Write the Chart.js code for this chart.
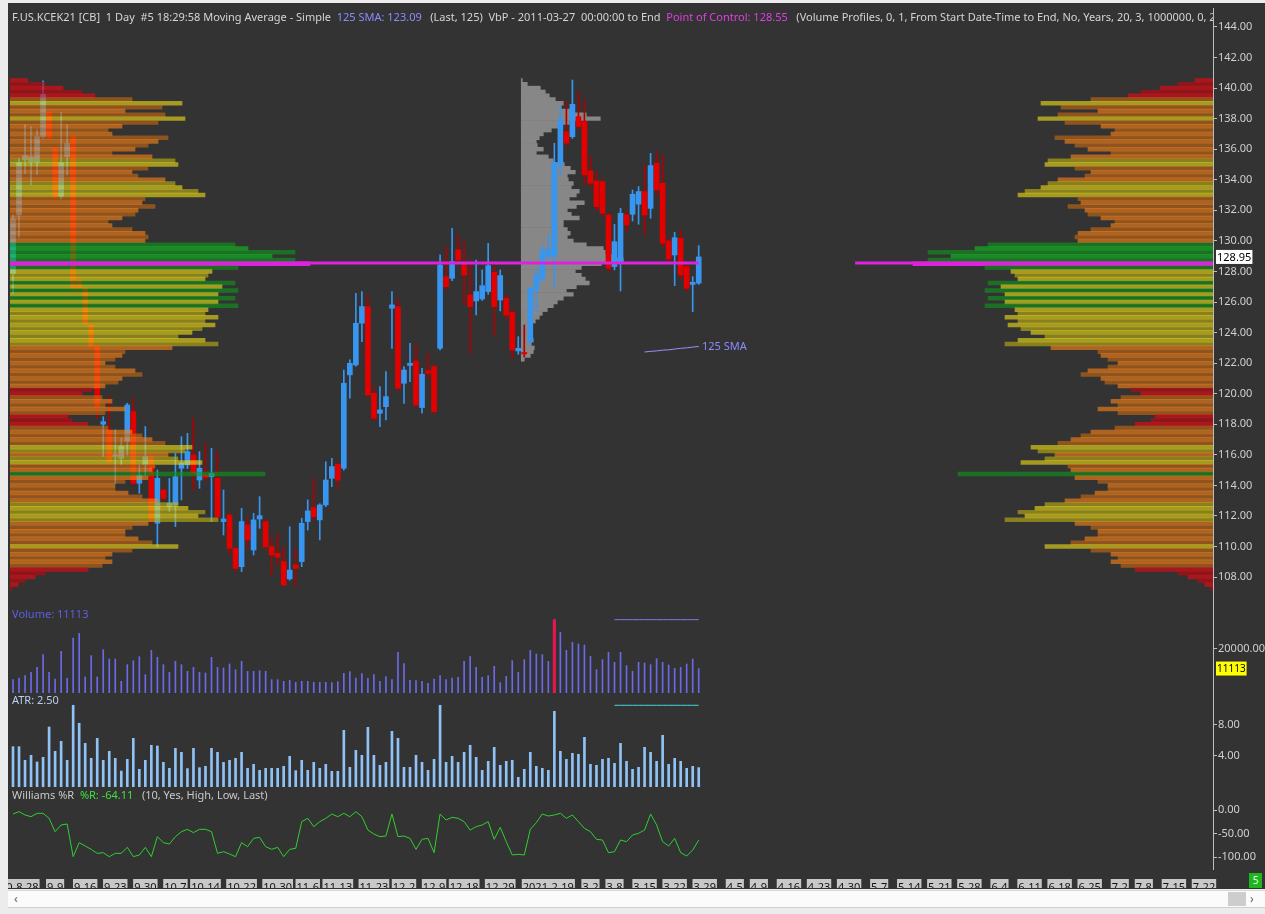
<!DOCTYPE html>
<html>
<head>
<meta charset="utf-8">
<title>F.US.KCEK21 1 Day</title>
<script src="https://cdn.jsdelivr.net/npm/chart.js@4.4.1/dist/chart.umd.min.js"></script>
<style>
  body { margin: 0; width: 1265px; height: 914px; background: #ececec; overflow: hidden; font-family: "Noto Sans", sans-serif; }
  #frame { position: absolute; left: 8px; top: 3px; width: 1257px; height: 886px; background: #333333; overflow: hidden; }
  #frame canvas { position: absolute; left: -8px; }
  .lbl { position: absolute; font-size: 11px; line-height: 14px; white-space: nowrap; }
  #axisLine { position: absolute; left: 1205px; top: 5px; width: 1px; height: 862px; background: #bdbdbd; }
  #scroll { position: absolute; left: 8px; top: 890px; width: 1257px; height: 16px; background: #fbfbfb; border-top: 1px solid #d8d8d8; border-bottom: 1px solid #cfcfcf; }
  #thumb { position: absolute; left: 1220px; top: 1px; width: 18px; height: 14px; background: #cdcdcd; }
  .arrow { position: absolute; top: 0; font-size: 12px; line-height: 16px; color: #606060; }
  #badge { position: absolute; left: 1241px; top: 870px; width: 13px; height: 15px; background: #1fb51f; color: #e8ffe8; font-size: 10px; line-height: 15px; text-align: center; }
</style>
</head>
<body>
<div id="frame">
  <canvas id="cBack" width="1265" height="600" style="top:-3px"></canvas>
  <canvas id="cMain" width="1265" height="600" style="top:-3px"></canvas>
  <canvas id="cFront" width="1265" height="600" style="top:-3px"></canvas>
  <canvas id="cVol" width="1265" height="95" style="top:597px"></canvas>
  <canvas id="cAtr" width="1265" height="95" style="top:692px"></canvas>
  <canvas id="cWr" width="1265" height="100" style="top:787px"></canvas>
  <div id="axisLine"></div>

  <div class="lbl" style="left:4px;top:7px;width:1201px;overflow:hidden;color:#d4d4d4">F.US.KCEK21 [CB]&nbsp; 1 Day&nbsp; #5 18:29:58 Moving Average - Simple&nbsp; <span style="color:#8b8bff">125 SMA: 123.09</span>&nbsp;&nbsp; (Last, 125)&nbsp; VbP - 2011-03-27&nbsp; 00:00:00 to End&nbsp; <span style="color:#e23de2">Point of Control: 128.55</span>&nbsp;&nbsp; (Volume Profiles, 0, 1, From Start Date-Time to End, No, Years, 20, 3, 1000000, 0, 2011-03-27, 00:00:00)</div>
  <div class="lbl" style="left:694px;top:336px;color:#8b8bff">125 SMA</div>
  <div class="lbl" style="left:4px;top:604px;color:#5f5fe6">Volume: 11113</div>
  <div class="lbl" style="left:4px;top:690px;color:#b9cdec">ATR: 2.50</div>
  <div class="lbl" style="left:4px;top:785px;color:#c8c8c8">Williams %R&nbsp; <span style="color:#3fe03f">%R: -64.11</span>&nbsp;&nbsp; (10, Yes, High, Low, Last)</div>
  <div id="badge">5</div>
</div>
<div id="scroll"><span class="arrow" style="left:6px">&#8249;</span><div id="thumb"></div><span class="arrow" style="left:1242px">&#8250;</span></div>

<script>
// ---- data ----
const tickDates = ["2020-8-28", "9-9", "9-16", "9-23", "9-30", "10-7", "10-14", "10-22", "10-30", "11-6",
  "11-13", "11-23", "12-2", "12-9", "12-18", "12-29", "2021-2-19", "3-2", "3-8", "3-15", "3-22",
  "3-29", "4-5", "4-9", "4-16", "4-23", "4-30", "5-7", "5-14", "5-21", "5-28", "6-4", "6-11",
  "6-18", "6-25", "7-2", "7-8", "7-15", "7-22"]
const tickSlots = [0, 7, 12, 17, 22, 27, 32, 38, 44, 49, 54, 60, 65, 70, 75, 81, 89, 96, 100, 105, 110,
  115, 120, 124, 129, 134, 139, 144, 149, 154, 159, 164, 169, 174, 179, 184, 188, 193, 198]

const opens = [127.84, 131.70, 135.30, 135.19, 135.14, 136.82, 138.42, 136.06, 132.90, 135.52,
  136.82, 127.40, 126.90, 124.50, 123.08, 118.00, 117.63, 115.90, 115.77, 116.86,
  118.83, 114.14, 115.34, 115.88, 111.52, 113.70, 112.61, 112.72, 115.12, 115.34,
  115.99, 114.35, 114.68, 114.57, 114.46, 111.63, 112.06, 109.88, 108.68, 111.41,
  109.77, 111.80, 111.63, 109.99, 109.55, 109.01, 107.88, 108.79, 109.01, 111.63,
  112.55, 111.74, 112.72, 114.46, 115.38, 115.12, 121.23, 121.88, 124.61, 125.70,
  120.03, 118.72, 119.15, 125.59, 125.70, 120.68, 121.85, 122.14, 119.09, 121.50,
  121.77, 122.97, 127.66, 127.55, 129.41, 128.53, 126.46, 126.07, 126.20, 126.68,
  127.95, 126.13, 126.24, 125.33, 122.80, 122.70, 123.41, 126.79, 127.51, 128.97,
  128.97, 134.97, 137.15, 136.82, 138.13, 137.81, 134.58, 133.92, 133.88, 131.70,
  128.32, 128.53, 131.70, 131.74, 132.40, 133.23, 132.13, 135.08, 133.77, 130.00,
  129.08, 130.17, 128.32, 127.15, 127.23]
const highs = [131.70, 135.40, 137.63, 137.48, 137.26, 140.47, 138.57, 136.17, 138.42, 137.59,
  136.90, 127.70, 127.00, 124.70, 123.20, 118.50, 119.80, 117.63, 117.08, 119.37,
  119.70, 115.34, 117.85, 116.00, 115.01, 113.80, 114.46, 116.10, 117.19, 117.41,
  118.39, 116.21, 116.75, 116.43, 116.21, 113.70, 112.20, 110.00, 112.50, 111.90,
  112.17, 113.26, 111.80, 110.54, 110.86, 110.00, 111.30, 109.88, 111.85, 113.05,
  114.46, 112.80, 115.55, 115.77, 115.50, 121.55, 122.21, 126.57, 126.68, 126.46,
  120.50, 120.46, 121.45, 126.68, 126.20, 121.77, 123.30, 123.20, 121.66, 122.64,
  121.90, 129.08, 129.62, 130.82, 130.39, 129.95, 128.75, 128.75, 128.10, 129.84,
  128.32, 128.10, 126.50, 125.50, 123.73, 124.50, 127.00, 128.21, 129.73, 130.43,
  136.39, 138.79, 139.11, 140.53, 139.77, 139.22, 135.50, 134.50, 134.00, 131.80,
  131.09, 132.13, 132.00, 133.33, 133.55, 134.97, 135.73, 135.80, 135.62, 130.20,
  130.56, 130.70, 128.50, 127.66, 129.69]
const lows = [126.57, 130.24, 134.42, 133.66, 134.32, 136.72, 136.60, 132.57, 132.74, 134.32,
  126.60, 126.70, 124.50, 122.90, 118.39, 115.88, 115.40, 114.14, 115.34, 115.99,
  114.03, 113.48, 114.68, 111.50, 109.99, 113.00, 112.28, 111.30, 113.05, 115.10,
  113.70, 113.81, 114.30, 111.63, 111.85, 110.75, 109.45, 108.40, 108.35, 109.88,
  109.45, 111.19, 109.80, 108.14, 108.79, 107.40, 107.80, 107.37, 108.68, 111.08,
  111.70, 110.43, 112.60, 113.92, 113.81, 115.00, 119.70, 121.80, 123.41, 119.80,
  118.20, 117.85, 118.28, 122.97, 120.20, 119.37, 120.79, 119.10, 118.72, 121.00,
  118.70, 122.87, 126.80, 127.40, 128.50, 125.81, 122.64, 125.15, 126.10, 126.50,
  123.84, 125.42, 124.90, 122.30, 122.58, 122.40, 123.19, 125.37, 127.30, 128.80,
  126.90, 134.32, 136.20, 136.70, 137.30, 133.66, 133.50, 132.00, 131.60, 128.00,
  128.10, 126.72, 130.60, 131.30, 131.09, 130.39, 131.48, 133.00, 129.60, 128.60,
  127.07, 127.50, 126.70, 125.37, 127.15]
const closes = [131.44, 135.14, 135.58, 135.50, 136.82, 139.59, 136.72, 132.90, 135.14, 136.39,
  126.90, 126.90, 124.60, 123.08, 119.15, 118.17, 115.55, 116.00, 116.54, 119.26,
  114.14, 114.68, 115.88, 111.63, 114.46, 113.15, 112.83, 114.57, 115.45, 116.21,
  114.79, 115.12, 114.50, 114.79, 111.95, 111.80, 109.88, 108.57, 111.63, 110.43,
  111.74, 112.02, 109.99, 109.45, 109.30, 107.48, 108.46, 108.57, 111.52, 112.33,
  111.95, 112.72, 114.35, 115.23, 114.35, 120.68, 121.99, 124.61, 125.70, 119.92,
  118.39, 118.94, 119.81, 125.81, 120.35, 121.55, 121.99, 119.26, 121.27, 121.33,
  118.83, 128.42, 127.00, 128.64, 128.75, 127.77, 125.70, 126.68, 127.07, 128.38,
  125.70, 127.73, 125.15, 122.86, 122.97, 122.60, 126.90, 127.77, 129.34, 129.47,
  135.14, 137.96, 136.39, 138.94, 137.48, 134.32, 133.77, 132.24, 131.81, 128.21,
  129.95, 131.81, 131.04, 133.05, 133.23, 131.70, 134.93, 133.33, 129.84, 128.82,
  130.21, 127.77, 126.90, 127.29, 128.95]

const volume = [6060, 6820, 7880, 9390, 11670, 17420, 9390, 6360, 18940, 6670,
  25000, 27120, 7270, 16970, 7270, 19700, 15450, 15450, 5300, 12880,
  14700, 16510, 8330, 19390, 16210, 12880, 9390, 14390, 12880, 9850,
  11670, 9390, 9090, 16210, 11670, 11360, 13180, 10600, 14390, 9850,
  9850, 10150, 9850, 6060, 6060, 5300, 5760, 4850, 5300, 5300,
  4850, 4850, 4850, 4700, 5150, 8940, 9700, 6820, 8790, 6670,
  8330, 5300, 7420, 6060, 18480, 13330, 5760, 5600, 5300, 4390,
  6360, 7880, 6060, 6820, 7120, 14390, 16510, 11670, 7120, 7880,
  12120, 4700, 7580, 14700, 9390, 15150, 19390, 17730, 17420, 14390,
  33330, 27570, 19390, 23030, 22270, 21820, 16670, 10600, 15150, 18480,
  13940, 18480, 12420, 9850, 13940, 13640, 12880, 15600, 13940, 12730,
  11210, 11670, 13180, 15450, 11113]

const atr = [5.20, 5.20, 3.44, 4.09, 3.23, 3.83, 7.74, 4.60, 5.89, 3.44,
  10.54, 8.22, 5.63, 3.70, 6.28, 3.44, 4.60, 3.70, 2.06, 3.57,
  6.28, 2.28, 3.44, 5.38, 5.29, 3.18, 2.41, 4.99, 4.47, 2.37,
  4.99, 2.49, 2.67, 4.99, 4.47, 3.18, 3.44, 3.70, 4.47, 2.41,
  2.92, 2.15, 2.41, 2.41, 2.41, 2.67, 3.96, 2.11, 3.44, 2.15,
  3.18, 2.41, 2.92, 2.02, 2.02, 7.31, 2.54, 4.73, 4.09, 7.70,
  4.09, 2.80, 3.18, 7.18, 6.28, 2.54, 2.54, 4.09, 3.18, 2.15,
  3.57, 10.54, 3.18, 3.96, 3.18, 4.47, 5.38, 3.83, 2.15, 3.31,
  5.12, 2.80, 3.31, 3.44, 1.25, 2.28, 4.47, 2.67, 2.41, 2.15,
  9.76, 4.60, 3.57, 4.34, 4.22, 6.41, 2.92, 2.80, 3.57, 3.70,
  3.05, 5.63, 3.31, 2.28, 2.54, 5.12, 4.47, 3.31, 6.67, 2.92,
  3.70, 3.31, 2.41, 2.67, 2.50]

const williamsR = [-8.5, -3.5, -10.6, -14.2, -7.1, -7.1, -17.7, -46.1, -31.9, -29.8,
  -99.3, -69.5, -76.6, -83.7, -92.2, -90.8, -99.3, -92.2, -92.2, -79.4,
  -99.3, -95.7, -79.4, -99.3, -56.7, -69.5, -72.3, -56.7, -46.1, -41.1,
  -48.2, -41.1, -41.1, -46.1, -92.2, -88.7, -93.6, -99.3, -69.5, -78.0,
  -60.3, -58.2, -78.0, -83.7, -79.4, -99.3, -83.7, -81.6, -24.8, -17.7,
  -35.5, -24.8, -17.7, -8.5, -14.2, -7.1, -14.2, -3.5, -14.2, -42.6,
  -51.1, -56.7, -55.3, -8.5, -56.7, -55.3, -60.3, -83.7, -62.4, -60.3,
  -90.8, -8.5, -21.3, -15.6, -17.7, -24.8, -42.6, -35.5, -31.9, -24.8,
  -62.4, -36.9, -67.4, -95.7, -94.3, -95.7, -41.1, -27.0, -8.5, -12.8,
  -10.6, -7.1, -17.7, -10.6, -24.8, -39.0, -46.1, -62.4, -63.8, -90.8,
  -88.7, -63.8, -67.4, -53.2, -49.6, -42.6, -8.5, -31.9, -67.4, -76.6,
  -60.3, -90.8, -97.9, -85.1, -64.11]

// 125 SMA, only the last bars are on screen
const smaStartSlot = 105
const sma125 = [122.73, 122.77, 122.80, 122.85, 122.87, 122.92, 122.97, 123.00, 123.05, 123.09]

const pocPrice = 128.55
const pocExtendFrom = 140
const lastPrice = 128.95
const highlightFrom = 100

// volume by price, whole chart, from 140.50 down in 0.25 steps
const profileTop = 140.5
const profileStep = 0.25
const profileVolume = [
  1800, 3500, 5300, 7200, 8500, 12200, 17200, 15200, 11500, 15500,
  17500, 14800, 11200, 9800, 10200, 15800, 14800, 13800, 12500, 10200,
  14200, 16500, 16800, 13800, 12200, 12800, 15500, 16500, 17200, 18800,
  19500, 13500, 13200, 14500, 12800, 12500, 11200, 9800, 10200, 12200,
  13500, 13800, 13500, 22500, 23800, 28500, 26200, 28500, 30000, 22800,
  20200, 19800, 19500, 22500, 21200, 22800, 20800, 22500, 20800, 22800,
  19800, 19500, 20800, 19500, 20500, 19200, 18200, 16800, 19500, 20800,
  16200, 11500, 11200, 10500, 9500, 10500, 12500, 13200, 11200, 10800,
  9500, 8200, 7200, 9200, 10200, 9500, 11500, 9500, 5800, 6200,
  7800, 9800, 12200, 13200, 14200, 15500, 18200, 17500, 15800, 16800,
  19200, 14500, 14200, 25500, 13800, 11500, 10500, 10500, 11800, 13200,
  14800, 16800, 17800, 19500, 18800, 20800, 13800, 12200, 11500, 11500,
  12800, 14200, 16800, 12200, 10200, 9500, 10200, 9200, 7800, 3500,
  2500, 1500, 800, 200]

// volume by price of the recent period (gray profile), same price steps
const recentStartSlot = 85
const recentVolume = [
  100, 600, 1900, 2400, 2800, 3400, 4200, 4000, 5000, 6500,
  7900, 4800, 3800, 3000, 2200, 1800, 1500, 1600, 2200, 1500,
  2700, 3200, 4300, 4900, 5400, 4600, 4700, 5200, 5000, 5800,
  5500, 4800, 6300, 5500, 4600, 5000, 5800, 4200, 4200, 4600,
  4900, 4600, 5200, 6500, 8200, 8400, 9500, 10200, 8000, 6000,
  5400, 6000, 6400, 6800, 5500, 4500, 5200, 4200, 3600, 3200,
  2600, 2100, 1800, 1400, 900, 1000, 800, 900, 1200, 1000,
  1300, 1200, 900, 300]

const priceTicks = [108, 110, 112, 114, 116, 118, 120, 122, 124, 126, 128, 130, 132, 134, 136, 138, 140, 142, 144]
const volumeTicks = [20000]
const atrTicks = [4, 8]
const williamsTicks = [0, -50, -100]

// ---- setup ----
Chart.defaults.font.family = "'Noto Sans', sans-serif"
Chart.defaults.font.size = 11

const SLOTS = 200
const N = opens.length
const slotLabels = Array.from({ length: SLOTS }, () => "")
tickSlots.forEach((s, k) => { slotLabels[s] = tickDates[k] })

const PRICE_MIN = 106.63
const PRICE_MAX = 145.24
const PROFILE_SPAN = 120300

const upColor = "#3796f0"
const downColor = "#e50000"
const downWick = "#b00000"

const base = {
  responsive: false,
  animation: false,
  events: [],
  plugins: { legend: { display: false }, tooltip: { enabled: false } },
}

function slotAxis(show) {
  return {
    type: "category",
    labels: slotLabels,
    offset: true,
    display: show,
    grid: { display: false },
    border: { display: false },
  }
}

function rightAxis(min, max, ticksList) {
  return {
    position: "right",
    min: min,
    max: max,
    afterBuildTicks: (ax) => { ax.ticks = ticksList.map((v) => ({ value: v })) },
    afterFit: (ax) => { ax.width = 52; ax.paddingTop = 0; ax.paddingBottom = 0 },
    ticks: { color: "#cfcfcf", padding: 1, callback: (v) => Number(v).toFixed(2) },
    grid: { drawOnChartArea: false, color: "#bdbdbd", tickLength: 4 },
    border: { display: false },
  }
}

function slotSeries(values, from) {
  const out = Array(SLOTS).fill(null)
  values.forEach((v, k) => { out[from + k] = v })
  return out
}

function tagPlugin(id, value, text, bg, fontSize) {
  return {
    id: id,
    afterDraw(chart) {
      const { ctx } = chart
      const y = chart.scales.y
      const yy = y.getPixelForValue(value)
      ctx.save()
      ctx.font = `${fontSize}px 'Noto Sans'`
      const w = ctx.measureText(text).width + 2
      ctx.fillStyle = bg
      ctx.fillRect(y.left + 3, yy - 7, w, 14)
      ctx.fillStyle = "#000000"
      ctx.textBaseline = "middle"
      ctx.fillText(text, y.left + 4, yy + 0.5)
      ctx.restore()
    },
  }
}

// ---- price panel: candles ----
const isUp = opens.map((o, i) => closes[i] >= o)
const pocLine = Array(SLOTS).fill(null)
for (let i = 0; i < SLOTS; i++) {
  if (i < N || i >= pocExtendFrom) pocLine[i] = pocPrice
}

new Chart(document.getElementById("cMain"), {
  type: "bar",
  data: {
    datasets: [
      {
        type: "line",
        data: pocLine,
        borderColor: "#dd22dd",
        borderWidth: 3,
        pointRadius: 0,
        spanGaps: false,
        order: 0,
      },
      {
        type: "line",
        data: slotSeries(sma125, smaStartSlot),
        borderColor: "#9a90ff",
        borderWidth: 1,
        pointRadius: 0,
        order: 1,
      },
      {
        data: opens.map((o, i) => [o, closes[i]]),
        backgroundColor: isUp.map((u) => (u ? upColor : downColor)),
        barThickness: 5,
        grouped: false,
        order: 2,
      },
      {
        data: lows.map((l, i) => [l, highs[i]]),
        backgroundColor: isUp.map((u) => (u ? upColor : downWick)),
        barThickness: 1,
        grouped: false,
        order: 3,
      },
    ],
  },
  options: {
    ...base,
    layout: { padding: { left: 10, right: 0, top: 8, bottom: 2 } },
    scales: { x: slotAxis(false), y: rightAxis(PRICE_MIN, PRICE_MAX, priceTicks) },
  },
  plugins: [tagPlugin("lastPrice", lastPrice, lastPrice.toFixed(2), "#ffffff", 11)],
})

// ---- volume profiles ----
function profileColor(v, k, maxV) {
  if (v === maxV) return "#dd22dd"
  let c
  if (v < 8800) c = [241, 8, 16]
  else if (v < 16500) c = [255, 133, 24]
  else if (v < 22000) c = [241, 224, 24]
  else c = [16, 191, 33]
  const f = k % 2 ? 0.8 : 1
  return `rgba(${Math.round(c[0] * f)}, ${Math.round(c[1] * f)}, ${Math.round(c[2] * f)}, 0.6)`
}

const profileMax = Math.max(...profileVolume)
const profilePoints = profileVolume.map((v, k) => ({ x: v, y: profileTop - k * profileStep }))
const profileColors = profileVolume.map((v, k) => profileColor(v, k, profileMax))
const priceAxis = { type: "linear", min: PRICE_MIN, max: PRICE_MAX, offset: false, display: false }

new Chart(document.getElementById("cFront"), {
  type: "bar",
  data: {
    datasets: [
      { data: profilePoints, xAxisID: "xl", yAxisID: "y", backgroundColor: profileColors, grouped: false, categoryPercentage: 1, barPercentage: 1 },
      { data: profilePoints, xAxisID: "xr", yAxisID: "y", backgroundColor: profileColors, grouped: false, categoryPercentage: 1, barPercentage: 1 },
    ],
  },
  options: {
    ...base,
    indexAxis: "y",
    layout: { padding: { left: 10, right: 52, top: 8, bottom: 2 } },
    scales: {
      y: priceAxis,
      xl: { type: "linear", axis: "x", position: "bottom", min: 0, max: PROFILE_SPAN, display: false },
      xr: { type: "linear", axis: "x", position: "top", min: 0, max: PROFILE_SPAN, reverse: true, display: false },
    },
  },
})

const recentPoints = recentVolume.map((v, k) => ({ x: v, y: profileTop - k * profileStep }))
const recentMin = -recentStartSlot * (PROFILE_SPAN / SLOTS)

new Chart(document.getElementById("cBack"), {
  type: "bar",
  data: {
    datasets: [
      { data: recentPoints, xAxisID: "xg", yAxisID: "y", backgroundColor: "#878787", categoryPercentage: 1, barPercentage: 1 },
    ],
  },
  options: {
    ...base,
    indexAxis: "y",
    layout: { padding: { left: 10, right: 52, top: 8, bottom: 2 } },
    scales: {
      y: { ...priceAxis },
      xg: { type: "linear", axis: "x", position: "bottom", min: recentMin, max: recentMin + PROFILE_SPAN, display: false },
    },
  },
})

// ---- volume panel ----
const volMax = Math.max(...volume)
const volMaxIndex = volume.indexOf(volMax)

new Chart(document.getElementById("cVol"), {
  type: "bar",
  data: {
    datasets: [
      {
        type: "line",
        data: slotSeries(Array(N - highlightFrom).fill(volMax), highlightFrom),
        borderColor: "#7b7bea",
        borderWidth: 1,
        pointRadius: 0,
        order: 0,
      },
      {
        data: volume.map((v, i) => (i === volMaxIndex ? v : null)),
        backgroundColor: "#e0194f",
        barThickness: 2.5,
        grouped: false,
        order: 1,
      },
      {
        data: volume,
        backgroundColor: "#6a6ae8",
        barThickness: 1,
        grouped: false,
        order: 2,
      },
    ],
  },
  options: {
    ...base,
    layout: { padding: { left: 10, right: 0, top: 4, bottom: 2 } },
    scales: { x: slotAxis(false), y: rightAxis(0, 40450, volumeTicks) },
  },
  plugins: [tagPlugin("lastVolume", volume[N - 1], String(volume[N - 1]), "#ffff00", 10)],
})

// ---- ATR panel ----
const atrMax = Math.max(...atr)

new Chart(document.getElementById("cAtr"), {
  type: "bar",
  data: {
    datasets: [
      {
        type: "line",
        data: slotSeries(Array(N - highlightFrom).fill(atrMax), highlightFrom),
        borderColor: "#3fd8d8",
        borderWidth: 1,
        pointRadius: 0,
        order: 0,
      },
      {
        data: atr,
        backgroundColor: "#8fc3f7",
        barThickness: 2,
        order: 1,
      },
    ],
  },
  options: {
    ...base,
    layout: { padding: { left: 10, right: 0, top: 2, bottom: 3 } },
    scales: { x: slotAxis(false), y: rightAxis(0, 11.61, atrTicks) },
  },
})

// ---- Williams %R panel with the date axis ----
const dateAxis = slotAxis(true)
dateAxis.afterBuildTicks = (ax) => { ax.ticks = ax.ticks.filter((t) => slotLabels[t.value] !== "") }
dateAxis.afterFit = (ax) => { ax.height = 20; ax.paddingLeft = 0; ax.paddingRight = 0 }
dateAxis.ticks = {
  autoSkip: false,
  maxRotation: 0,
  color: "#111111",
  font: { size: 11 },
  padding: 5,
  showLabelBackdrop: true,
  backdropColor: "#c8c8c8",
  backdropPadding: { x: 1, y: 2 },
}

new Chart(document.getElementById("cWr"), {
  type: "line",
  data: {
    datasets: [
      { data: williamsR, borderColor: "#2fd02f", borderWidth: 1, pointRadius: 0, tension: 0 },
    ],
  },
  options: {
    ...base,
    layout: { padding: { left: 10, right: 0, top: 2, bottom: 2 } },
    scales: { x: dateAxis, y: rightAxis(-123.4, 38.3, williamsTicks) },
  },
})
</script>
</body>
</html>
